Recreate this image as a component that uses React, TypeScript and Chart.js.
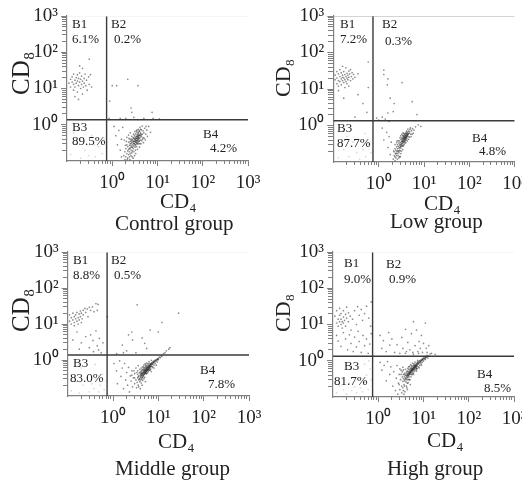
import React, { useEffect, useRef } from "react";
import { Chart, registerables } from "chart.js";

Chart.register(...registerables);

const SERIF = '"Liberation Serif", serif';
const majorTicks = [1, 10, 100, 1000];
const minorTicks = [0.2, 0.3, 0.4, 0.5, 0.6, 0.7, 0.8, 0.9, 2, 3, 4, 5, 6, 7, 8, 9, 20, 30, 40, 50, 60, 70, 80, 90, 200, 300, 400, 500, 600, 700, 800, 900];
const tickLabels: Record<number, string> = { 1: "10\u2070", 10: "10\u00B9", 100: "10\u00B2", 1000: "10\u00B3" };

type P = [number, number][];

const controlDots: P = [
  [0.11,14],[0.12,18],[0.12,11],[0.13,21],[0.13,15],[0.14,9],[0.14,25],[0.14,13],[0.15,17],[0.15,11],[0.16,20],[0.16,14],[0.17,16],[0.17,8],[0.17,24],[0.18,12],[0.18,19],[0.19,15],[0.19,27],[0.2,10],[0.2,18],[0.21,13],[0.21,22],[0.22,16],[0.22,7],[0.23,11],[0.24,19],[0.24,14],[0.25,25],[0.26,12],[0.27,17],[0.28,9],[0.3,21],[0.31,13],[0.33,24],[0.22,36],[0.19,42],[0.15,6],[0.18,5],[0.35,11],[0.31,65],
  [2.2,18],[1,12],[1.25,12],[3.7,12],[0.88,4.5],[2.6,2.9],[2.7,2.2],[7.6,2.2],[1.5,1.5],[2,1.5],[3,1.6],[5,1.5],[8,1.5],[11,1.45],[0.85,1.5],
  [1.8,0.14],[1.9,0.11],[1.9,0.18],[2,0.13],[2,0.22],[2.1,0.16],[2.1,0.28],[2.2,0.12],[2.2,0.19],[2.2,0.25],[2.3,0.15],[2.3,0.21],[2.3,0.33],[2.4,0.13],[2.4,0.18],[2.4,0.27],[2.5,0.16],[2.5,0.23],[2.5,0.3],[2.5,0.4],[2.6,0.14],[2.6,0.2],[2.6,0.26],[2.7,0.17],[2.7,0.24],[2.7,0.33],[2.8,0.19],[2.8,0.28],[2.8,0.38],[2.9,0.22],[2.9,0.31],[2.9,0.44],[3,0.18],[3,0.26],[3,0.35],[3.1,0.3],[3.1,0.4],[3.1,0.5],[3.2,0.24],[3.2,0.34],[3.2,0.45],[3.3,0.28],[3.3,0.38],[3.3,0.56],[3.4,0.32],[3.4,0.42],[3.5,0.36],[3.5,0.48],[3.5,0.63],[3.6,0.3],[3.6,0.41],[3.6,0.54],[3.7,0.38],[3.7,0.47],[3.8,0.44],[3.8,0.58],[3.9,0.35],[3.9,0.5],[4,0.42],[4,0.66],[4.1,0.52],[4.2,0.38],[4.2,0.6],[4.4,0.48],[4.4,0.72],[4.6,0.55],[4.8,0.44],[4.8,0.68],[5,0.6],[5.2,0.8],[5.5,0.55],[5.8,0.72],[6.4,0.9],[7,0.62],[1.1,0.9],[1.2,0.5],[1.3,0.28],[1.4,0.7],[1.5,0.2],[1.6,0.13],[1.6,0.4],[1.7,0.85],
];
const controlSpread: P = [[2.1,0.45],[2.3,0.52],[2.5,0.6],[2.7,0.48],[2.9,0.12],[3.1,0.14],[3.3,0.16],[3.4,0.68],[3.6,0.21],[3.8,0.3],[3.8,0.75],[4,0.24],[4.1,0.85],[4.3,0.3],[4.5,0.36],[4.6,0.92],[4.9,0.32],[5.1,0.42],[5.4,0.38],[5.6,0.9],[6,0.48],[2.05,0.35],[2.35,0.42],[2.65,0.36],[2.95,0.55],[3.15,0.65],[3.25,0.2],[3.45,0.25],[3.55,0.72],[3.75,0.62],[3.95,0.68],[4.05,0.3],[4.25,0.75],[4.35,0.52],[4.65,0.4],[2.15,0.11],[2.45,0.11],[2.75,0.13],[1.95,0.27],[1.85,0.38]];
const controlCore: P = [[2.6,0.3],[2.8,0.24],[2.9,0.35],[3,0.3],[3,0.42],[3.1,0.35],[3.2,0.38],[3.2,0.28],[3.3,0.42],[3.3,0.33],[3.4,0.36],[3.4,0.48],[3.5,0.3],[3.5,0.42],[3.6,0.36],[3.6,0.46],[3.7,0.52],[3.7,0.33],[3.8,0.4],[3.8,0.5],[3.9,0.44],[4,0.36],[4,0.52],[4.2,0.46],[4.3,0.56],[2.4,0.22],[2.5,0.35],[2.7,0.4]];
const lowDots: P = [
  [0.11,18],[0.11,24],[0.12,14],[0.12,30],[0.12,20],[0.13,17],[0.13,26],[0.13,12],[0.14,22],[0.14,16],[0.14,34],[0.15,19],[0.15,13],[0.15,28],[0.16,24],[0.16,17],[0.16,21],[0.17,15],[0.17,30],[0.17,20],[0.18,25],[0.18,18],[0.18,11],[0.19,22],[0.19,16],[0.19,38],[0.2,20],[0.2,27],[0.2,14],[0.21,24],[0.21,18],[0.22,31],[0.22,21],[0.22,12],[0.23,26],[0.24,17],[0.24,34],[0.25,22],[0.26,28],[0.27,19],[0.28,25],[0.3,21],[0.16,42],[0.13,9],[0.35,26],
  [1.3,33],[1.3,25],[1.6,19],[1.55,13],[3.3,15],[1.8,5.6],[2.2,4],[1.6,2.2],[2.1,2.4],[1.2,1.7],[0.59,55],[0.59,11],[0.35,7],[0.45,4],[0.55,2.3],[0.3,1.7],[0.17,5.6],[1.4,1.5],[1.7,1.3],[0.9,1.6],[5.5,4.5],[7,2],[1,1.4],
  [2.1,0.12],[2.2,0.15],[2.2,0.19],[2.3,0.11],[2.3,0.14],[2.3,0.23],[2.4,0.13],[2.4,0.17],[2.4,0.21],[2.5,0.15],[2.5,0.19],[2.5,0.26],[2.6,0.12],[2.6,0.17],[2.6,0.23],[2.6,0.3],[2.7,0.15],[2.7,0.2],[2.7,0.27],[2.8,0.18],[2.8,0.24],[2.8,0.33],[2.9,0.14],[2.9,0.21],[2.9,0.29],[2.9,0.38],[3,0.2],[3,0.26],[3,0.34],[3.1,0.24],[3.1,0.3],[3.1,0.42],[3.2,0.28],[3.2,0.37],[3.2,0.46],[3.3,0.33],[3.3,0.41],[3.4,0.27],[3.4,0.36],[3.4,0.45],[3.5,0.4],[3.5,0.52],[3.6,0.35],[3.6,0.44],[3.6,0.48],[3.7,0.4],[3.7,0.5],[3.7,0.58],[3.8,0.45],[3.8,0.55],[3.9,0.42],[3.9,0.49],[4,0.47],[4,0.6],[4.1,0.52],[4.2,0.44],[4.2,0.65],[4.3,0.56],[4.5,0.5],[4.5,0.7],[4.7,0.62],[4.9,0.78],[5.1,0.58],[5.3,0.72],[5.6,0.82],[6,0.75],[6.5,0.92],[7.5,1.05],[1.2,0.85],[1.3,0.4],[1.5,0.65],[1.6,0.25],[1.7,0.5],[1.8,0.16],[1.9,0.35],[8.5,0.95],
];
const lowSpread: P = [[2.3,0.3],[2.5,0.34],[2.7,0.38],[2.8,0.13],[3,0.14],[3.1,0.17],[3.2,0.2],[3.4,0.22],[3.5,0.28],[3.6,0.6],[3.8,0.33],[3.9,0.62],[4,0.34],[4.1,0.7],[4.3,0.38],[4.4,0.8],[4.6,0.42],[4.8,0.48],[5,0.86],[5.2,0.5],[5.5,0.58],[5.8,0.62],[3.05,0.52],[3.25,0.58],[3.45,0.63],[3.65,0.3],[3.85,0.38],[4.05,0.4],[4.25,0.55],[4.45,0.6],[2.55,0.38],[2.35,0.17],[2.95,0.46],[2.15,0.2],[3.35,0.52]];
const lowCore: P = [[2.9,0.25],[3,0.3],[3.1,0.27],[3.2,0.33],[3.3,0.37],[3.3,0.29],[3.4,0.4],[3.4,0.32],[3.5,0.36],[3.5,0.45],[3.6,0.4],[3.6,0.52],[3.7,0.44],[3.7,0.36],[3.8,0.48],[3.8,0.41],[3.9,0.46],[3.9,0.54],[4,0.44],[4,0.52],[4.1,0.48],[4.1,0.58],[4.2,0.5],[4.3,0.52],[4.3,0.62],[4.4,0.56],[4.6,0.6],[4.8,0.68],[2.8,0.2],[2.6,0.2]];
const middleDots: P = [
  [0.11,12],[0.11,18],[0.12,15],[0.12,10],[0.13,20],[0.13,13],[0.14,16],[0.14,11],[0.14,9],[0.15,14],[0.15,18],[0.16,12],[0.16,21],[0.17,15],[0.17,10],[0.18,19],[0.18,13],[0.19,23],[0.19,16],[0.2,11],[0.2,20],[0.21,14],[0.22,24],[0.22,18],[0.24,27],[0.25,21],[0.27,26],[0.28,16],[0.3,29],[0.32,24],[0.35,30],[0.38,22],[0.42,37],[0.45,24],[0.47,35],
  [0.16,6],[0.2,3],[0.18,2],[0.25,4.5],[0.3,2.2],[0.32,5],[0.36,3.5],[0.37,1.7],[0.42,6.5],[0.45,2.5],[0.5,4],[0.55,1.6],[0.13,3.6],[0.48,1.9],[0.6,3],[0.75,16],
  [3.4,34],[28,20],[12,11],[6.6,6.8],[2.6,6],[2.2,5],[4.4,4.1],[2.7,3.6],[5,2.9],[1.6,2.6],[10,6],[1.7,1.6],[2,1.8],[3.2,1.6],[5.5,2.1],[1.2,1.5],
  [1.05,0.8],[1.2,0.5],[1.25,0.22],[1.4,0.95],[1.5,0.35],[1.6,0.6],[1.7,0.16],[1.8,0.8],[1.9,0.28],[2,0.45],[2.1,0.2],[2.2,0.62],[2.3,0.13],[2.4,0.36],[2.5,0.26],[2.6,0.5],[2.7,0.18],[2.8,0.32],[3,0.42],[3,0.22],[3.2,0.28],
  [3.4,0.24],[3.5,0.32],[3.5,0.4],[3.6,0.2],[3.7,0.28],[3.7,0.36],[3.8,0.44],[3.9,0.3],[3.9,0.25],[4,0.38],[4,0.46],[4.1,0.33],[4.1,0.28],[4.2,0.4],[4.2,0.5],[4.3,0.36],[4.3,0.3],[4.4,0.43],[4.4,0.54],[4.5,0.38],[4.5,0.33],[4.6,0.47],[4.6,0.42],[4.7,0.56],[4.7,0.36],[4.8,0.5],[4.8,0.44],[4.9,0.4],[4.9,0.6],[5,0.54],[5,0.46],[5.1,0.42],[5.1,0.62],[5.2,0.5],[5.2,0.56],[5.3,0.47],[5.3,0.66],[5.4,0.53],[5.5,0.6],[5.5,0.5],[5.6,0.7],[5.7,0.56],[5.7,0.63],[5.8,0.52],[5.9,0.66],[6,0.6],[6,0.74],[6.2,0.64],[6.3,0.7],[6.4,0.58],[6.5,0.8],[6.6,0.7],[6.8,0.76],[7,0.66],[7.1,0.84],[7.3,0.78],[7.5,0.88],[7.8,0.82],[8,0.94],[8.3,0.88],[8.6,1],[9,0.95],[9.3,1.05],[9.7,1.1],[10,1.02],[10.5,1.2],[11,1.15],[11.5,1.3],[12,1.25],[13,1.5],[14,1.6],[15,1.8],[17,2],[18,2.2],[8,0.6],[7,0.48],[9,0.72],
];
const middleSpread: P = [[3.3,0.45],[3.5,0.5],[3.7,0.18],[3.9,0.55],[4.2,0.6],[4.2,0.23],[4.5,0.65],[4.5,0.27],[4.8,0.72],[4.8,0.3],[5.1,0.78],[5,0.33],[5.4,0.42],[5.5,0.82],[5.8,0.44],[6,0.48],[6.2,0.9],[6.5,0.52],[6.8,0.56],[7,0.98],[7.5,0.62],[8,0.72],[3.2,0.6],[3.6,0.7],[4.4,0.2],[5.2,0.25],[4,0.16],[3,0.32],[4.7,0.62],[5.3,0.72],[5.9,0.8],[6.6,0.62],[6.1,0.54],[7.3,0.66],[8.5,0.8],[9.5,0.88],[2.9,0.5],[2.6,0.38],[3.3,0.17],[4.3,0.46]];
const middleCore: P = [[4,0.34],[4.2,0.37],[4.3,0.41],[4.5,0.41],[4.6,0.36],[4.7,0.45],[4.8,0.4],[4.9,0.5],[5,0.42],[5,0.5],[5.1,0.46],[5.2,0.44],[5.2,0.53],[5.3,0.5],[5.4,0.47],[5.4,0.58],[5.5,0.55],[5.6,0.52],[5.6,0.62],[5.7,0.5],[5.8,0.58],[5.9,0.55],[5.9,0.62],[6,0.55],[6.1,0.62],[6.2,0.68],[6.3,0.6],[6.4,0.66],[6.5,0.72],[6.6,0.66],[6.7,0.74],[6.8,0.68],[6.9,0.8],[7,0.74],[7.2,0.8],[7.4,0.76],[7.6,0.86],[7.9,0.88],[8.2,0.92],[8.6,0.94],[9,1],[9.5,1.02],[10,1.08],[3.8,0.3],[3.6,0.34],[4.4,0.32],[4.6,0.52],[5.5,0.42],[6.4,0.52],[4.1,0.42]];
const highDots: P = [
  [0.11,17],[0.12,11],[0.12,24],[0.13,14],[0.13,9],[0.14,12],[0.14,18],[0.14,28],[0.15,10],[0.15,14],[0.15,20],[0.16,12],[0.16,8],[0.17,16],[0.17,11],[0.17,24],[0.18,13],[0.19,19],[0.19,9],[0.2,15],[0.2,30],[0.22,12],[0.22,21],[0.24,17],[0.25,7],[0.27,14],[0.3,24],[0.33,10],[0.35,31],[0.38,18],[0.42,26],[0.45,13],[0.5,20],[0.55,32],[0.62,15],[0.68,9],[0.7,42],
  [0.12,5],[0.13,3.5],[0.15,2.5],[0.17,6],[0.19,4],[0.21,2],[0.23,5.2],[0.25,3],[0.28,1.8],[0.3,4.5],[0.33,2.4],[0.36,6.5],[0.38,3.4],[0.42,1.7],[0.46,5],[0.5,2.6],[0.55,4],[0.6,1.6],[0.65,2.9],[0.7,5.6],
  [1.1,5],[1.2,2.2],[1.3,3.6],[1.5,1.8],[1.7,6],[1.8,2.7],[2,4],[2.3,1.7],[2.6,2.8],[3,1.6],[3.3,4.4],[3.5,2.2],[4,7.4],[4.2,1.8],[4.5,3.2],[5,2],[5.4,5.6],[5.8,1.7],[6,12],[6.5,2.6],[7,7],[7.5,1.8],[8,3.4],[8.5,2.2],[9,5],[9.5,1.7],[10,3],[11,11],[11.5,2.2],[12,1.7],[13,2.6],[15,1.6],[18,1.5],[4,1.6],[6,1.5],[7.8,1.6],
  [1.1,0.9],[1.2,0.55],[1.35,0.75],[1.5,0.28],[1.6,0.95],[1.8,0.42],[1.9,0.68],[2.1,0.2],[2.2,0.5],[2.4,0.15],[2.5,0.33],[2.6,0.74],[2.7,0.12],[2.8,0.24],[2.9,0.42],[3,0.16],[3.1,0.3],[3.2,0.55],[3.3,0.2],[3.3,0.13],[3.4,0.36],[3.5,0.27],[3.5,0.18],[3.6,0.42],[3.6,0.32],[3.7,0.22],[3.8,0.36],[3.8,0.28],[3.9,0.46],[3.9,0.14],
  [4,0.33],[4,0.4],[4.1,0.26],[4.2,0.36],[4.2,0.46],[4.3,0.3],[4.4,0.4],[4.4,0.52],[4.5,0.34],[4.5,0.44],[4.6,0.38],[4.7,0.5],[4.7,0.58],[4.8,0.42],[4.8,0.36],[4.9,0.47],[5,0.55],[5,0.42],[5.1,0.5],[5.1,0.62],[5.2,0.46],[5.3,0.58],[5.3,0.52],[5.4,0.66],[5.5,0.5],[5.5,0.6],[5.6,0.55],[5.7,0.7],[5.8,0.6],[5.8,0.52],[5.9,0.64],[6,0.58],[6,0.74],[6.2,0.66],[6.2,0.6],[6.4,0.78],[6.5,0.62],[6.6,0.72],[6.8,0.66],[6.9,0.84],[7,0.76],[7.2,0.7],[7.3,0.9],[7.5,0.8],[7.7,0.94],[8,0.86],[8.2,1],[8.5,0.92],[8.8,1.06],[9,1],[9.4,1.12],[9.7,1.05],[10,1.2],[10.5,1.15],[11,1.3],[11.5,1.25],[12,1.42],[13,1.35],[14,1.55],[5,0.3],[6,0.42],[7,0.52],[8,0.64],[9,0.76],[4.4,0.24],[3.6,0.15],
];
const highSpread: P = [[3.2,0.42],[3.4,0.5],[3.6,0.56],[3.8,0.2],[4,0.58],[4.2,0.2],[4.5,0.62],[4.6,0.25],[4.9,0.7],[4.9,0.3],[5.2,0.78],[5.3,0.36],[5.6,0.42],[5.7,0.86],[6,0.46],[6.3,0.52],[6.5,0.92],[6.8,0.56],[7.2,0.6],[7.4,1.02],[7.8,0.68],[8.3,0.75],[8.8,0.82],[9.3,0.9],[10,0.98],[11,1.08],[12.5,1.2],[3,0.6],[3.5,0.66],[4.3,0.18],[4.4,0.16],[5.1,0.22],[3.7,0.12],[2.9,0.22],[4.7,0.68],[5.4,0.74],[6.1,0.82],[6.7,0.66],[5.8,0.46],[7.1,0.62]];
const highCore: P = [[3.9,0.3],[4.1,0.32],[4.2,0.4],[4.4,0.36],[4.5,0.4],[4.6,0.44],[4.7,0.4],[4.8,0.48],[4.9,0.44],[5,0.48],[5.1,0.46],[5.2,0.52],[5.3,0.48],[5.4,0.56],[5.5,0.54],[5.6,0.6],[5.7,0.58],[5.8,0.56],[5.9,0.6],[6,0.66],[6.1,0.62],[6.2,0.56],[6.3,0.68],[6.4,0.64],[6.5,0.7],[6.6,0.76],[6.7,0.7],[6.8,0.74],[7,0.72],[7.1,0.8],[7.3,0.76],[7.4,0.84],[7.6,0.88],[7.8,0.84],[8.1,0.92],[8.4,0.98],[8.7,0.96],[9.1,1.04],[9.6,1.1],[10.2,1.12],[10.8,1.22],[11.2,1.2],[4.3,0.5],[3.8,0.42],[4.6,0.3],[5.4,0.42],[6.2,0.72],[7,0.62]];
const controlFaint: P = [[0.12,0.15],[0.16,0.3],[0.2,0.12],[0.25,0.2],[0.3,0.14],[0.35,0.5],[0.42,0.13],[0.5,0.25],[0.6,0.16],[0.66,0.4],[0.14,0.6],[0.4,0.28]];
const lowFaint: P = [[0.13,0.13],[0.17,0.22],[0.22,0.14],[0.27,0.35],[0.33,0.18],[0.38,0.12],[0.45,0.22],[0.52,0.14],[0.6,0.3],[0.68,0.18],[0.2,0.5],[0.5,0.6]];
const middleFaint: P = [[0.12,0.14],[0.15,0.25],[0.18,0.12],[0.22,0.2],[0.26,0.32],[0.3,0.13],[0.34,0.22],[0.38,0.16],[0.42,0.3],[0.48,0.13],[0.52,0.2],[0.58,0.4],[0.64,0.15],[0.7,0.26],[0.2,0.6],[0.4,0.75]];
const highFaint: P = [[0.12,0.13],[0.14,0.2],[0.17,0.16],[0.2,0.12],[0.23,0.24],[0.26,0.15],[0.3,0.19],[0.33,0.13],[0.37,0.3],[0.4,0.18],[0.45,0.14],[0.5,0.25],[0.55,0.4],[0.6,0.16],[0.66,0.6],[0.7,0.3],[0.5,0.8],[0.62,1]];

const quadrantNames = ["B1", "B2", "B3", "B4"];
const controlPercents = ["6.1%", "0.2%", "89.5%", "4.2%"];
const lowPercents = ["7.2%", "0.3%", "87.7%", "4.8%"];
const middlePercents = ["8.8%", "0.5%", "83.0%", "7.8%"];
const highPercents = ["9.0%", "0.9%", "81.7%", "8.5%"];

type Layout = {
  group: string;
  dots: P;
  faint: P;
  percents: string[];
  gate: [number, number];
  area: [number, number, number, number];
  frame: string;
  names: [number, number][];
  pct: [number, number][];
  xTitle: [number, number];
  groupAt: [number, number];
  yTitle: [number, number, number];
};

const panels: Layout[] = [
  { group: "Control group", dots: [...controlDots, ...controlSpread, ...controlCore], faint: controlFaint, percents: controlPercents, gate: [0.75, 1.38], area: [67, 16, 248, 161], frame: "#ececec",
    names: [[72, 28], [111, 28], [72, 131], [203, 138]], pct: [[72, 43], [114, 43], [72, 145], [210, 152]], xTitle: [160, 208], groupAt: [115, 230], yTitle: [29, 95, 25] },
  { group: "Low group", dots: [...lowDots, ...lowSpread, ...lowCore], faint: lowFaint, percents: lowPercents, gate: [0.75, 1.35], area: [72.3, 16, 253.7, 162], frame: "#aaaaaa",
    names: [[79, 28], [121, 28], [76, 132], [211, 142]], pct: [[79, 43], [124, 45], [76, 147], [218, 155]], xTitle: [163, 210], groupAt: [129, 228], yTitle: [29, 97, 22] },
  { group: "Middle group", dots: [...middleDots, ...middleSpread, ...middleCore], faint: middleFaint, percents: middlePercents, gate: [0.74, 1.38], area: [67.7, 12, 249, 156], frame: "#ececec",
    names: [[73, 24], [111, 24], [73, 127], [200, 134]], pct: [[73, 39], [114, 39], [70, 142], [208, 148]], xTitle: [158, 208], groupAt: [115, 235], yTitle: [29, 92, 25] },
  { group: "High group", dots: [...highDots, ...highSpread, ...highCore], faint: highFaint, percents: highPercents, gate: [0.75, 1.33], area: [72, 12, 253, 157], frame: "#ececec",
    names: [[83, 27], [125, 28], [83, 130], [216, 138]], pct: [[83, 43], [128, 43], [73, 145], [223, 152]], xTitle: [166, 207], groupAt: [126, 235], yTitle: [29, 92, 22] },
];

const setTicks = (list: number[]) => (s: any) => {
  s.ticks = list.map((value) => ({ value }));
};
const axisColor = "#808080";

function textPlugin(p: Layout) {
  return {
    id: "panelText",
    afterDraw(chart: any) {
      const c = chart.ctx;
      c.save();
      c.fillStyle = "#222";
      c.textAlign = "left";
      c.textBaseline = "alphabetic";
      c.font = `13px ${SERIF}`;
      quadrantNames.forEach((n, i) => c.fillText(n, p.names[i][0], p.names[i][1]));
      p.percents.forEach((n, i) => c.fillText(n, p.pct[i][0], p.pct[i][1]));
      c.font = `21px ${SERIF}`;
      c.fillText("CD\u2084", p.xTitle[0], p.xTitle[1]);
      c.fillText(p.group, p.groupAt[0], p.groupAt[1]);
      c.translate(p.yTitle[0], p.yTitle[1]);
      c.rotate(-Math.PI / 2);
      c.font = `${p.yTitle[2]}px ${SERIF}`;
      c.fillText("CD\u2088", 0, 0);
      c.restore();
    },
  };
}

function Panel({ p, left, top }: { p: Layout; left: number; top: number }) {
  const ref = useRef<HTMLCanvasElement | null>(null);
  useEffect(() => {
    const [l, t, r, b] = p.area;
    const line = (color: string, width: number, data: { x: number; y: number }[]) => ({
      data, showLine: true, borderColor: color, borderWidth: width, pointRadius: 0,
    });
    const fitX = (s: any) => {
      s.height = 240 - b;
      s.paddingLeft = s.paddingRight = s.paddingTop = s.paddingBottom = 0;
    };
    const fitY = (s: any) => {
      s.width = l;
      s.paddingLeft = s.paddingRight = s.paddingTop = s.paddingBottom = 0;
    };
    const chart = new Chart(ref.current!, {
      type: "scatter",
      data: {
        datasets: [
          { data: p.faint.map(([x, y]) => ({ x, y })), pointRadius: 0.9, pointBorderWidth: 0, pointBackgroundColor: "rgba(90,90,90,0.22)" },
          { data: p.dots.map(([x, y]) => ({ x, y })), pointRadius: 0.85, pointBorderWidth: 0, pointBackgroundColor: "rgba(45,45,45,0.55)" },
          line(p.frame, 1, [{ x: 0.1, y: 1000 }, { x: 1000, y: 1000 }]),
          line("#3a3a3a", 1.4, [{ x: 0.1, y: p.gate[1] }, { x: 1000, y: p.gate[1] }]),
          line("#3a3a3a", 1.4, [{ x: p.gate[0], y: 0.1 }, { x: p.gate[0], y: 1000 }]),
        ],
      },
      options: {
        animation: false,
        responsive: false,
        devicePixelRatio: 1,
        layout: { padding: { left: 0, top: t, right: 261 - r, bottom: 0 } },
        plugins: { legend: { display: false }, tooltip: { enabled: false } },
        scales: {
          x: {
            type: "logarithmic", position: "bottom", min: 0.1, max: 1000,
            afterBuildTicks: setTicks(majorTicks), afterFit: fitX,
            border: { color: axisColor, width: 1.2 },
            grid: { drawOnChartArea: false, tickLength: 5, tickColor: axisColor },
            ticks: { autoSkip: false, maxRotation: 0, padding: 6, color: "#222", font: { family: SERIF, size: 19 }, callback: (v: any) => tickLabels[v] ?? "" },
          },
          y: {
            type: "logarithmic", position: "left", min: 0.1, max: 1000,
            afterBuildTicks: setTicks(majorTicks), afterFit: fitY,
            border: { color: axisColor, width: 1.2 },
            grid: { drawOnChartArea: false, tickLength: 6, tickColor: axisColor },
            ticks: { autoSkip: false, padding: 3, color: "#222", font: { family: SERIF, size: 19 }, callback: (v: any) => tickLabels[v] ?? "" },
          },
          xMinor: {
            type: "logarithmic", axis: "x", position: { y: 0.1 }, min: 0.1, max: 1000,
            afterBuildTicks: setTicks(minorTicks),
            border: { display: false },
            grid: { drawOnChartArea: false, tickLength: 3, tickColor: axisColor },
            ticks: { display: false },
          },
          yMinor: {
            type: "logarithmic", axis: "y", position: { x: 0.1 }, min: 0.1, max: 1000,
            afterBuildTicks: setTicks(minorTicks),
            border: { display: false },
            grid: { drawOnChartArea: false, tickLength: 5, tickColor: axisColor },
            ticks: { display: false },
          },
        },
      } as any,
      plugins: [textPlugin(p)],
    });
    return () => chart.destroy();
  }, [p]);
  return <canvas ref={ref} width={261} height={240} style={{ position: "absolute", left, top, width: 261, height: 240, display: "block", filter: "blur(0.35px)" }} />;
}

export default function App() {
  return (
    <div style={{ position: "absolute", left: 0, top: 0, width: 522, height: 480, background: "#fff", overflow: "hidden" }}>
      {panels.map((p, i) => (
        <Panel key={p.group} p={p} left={i % 2 ? 261 : 0} top={i < 2 ? 0 : 240} />
      ))}
    </div>
  );
}
